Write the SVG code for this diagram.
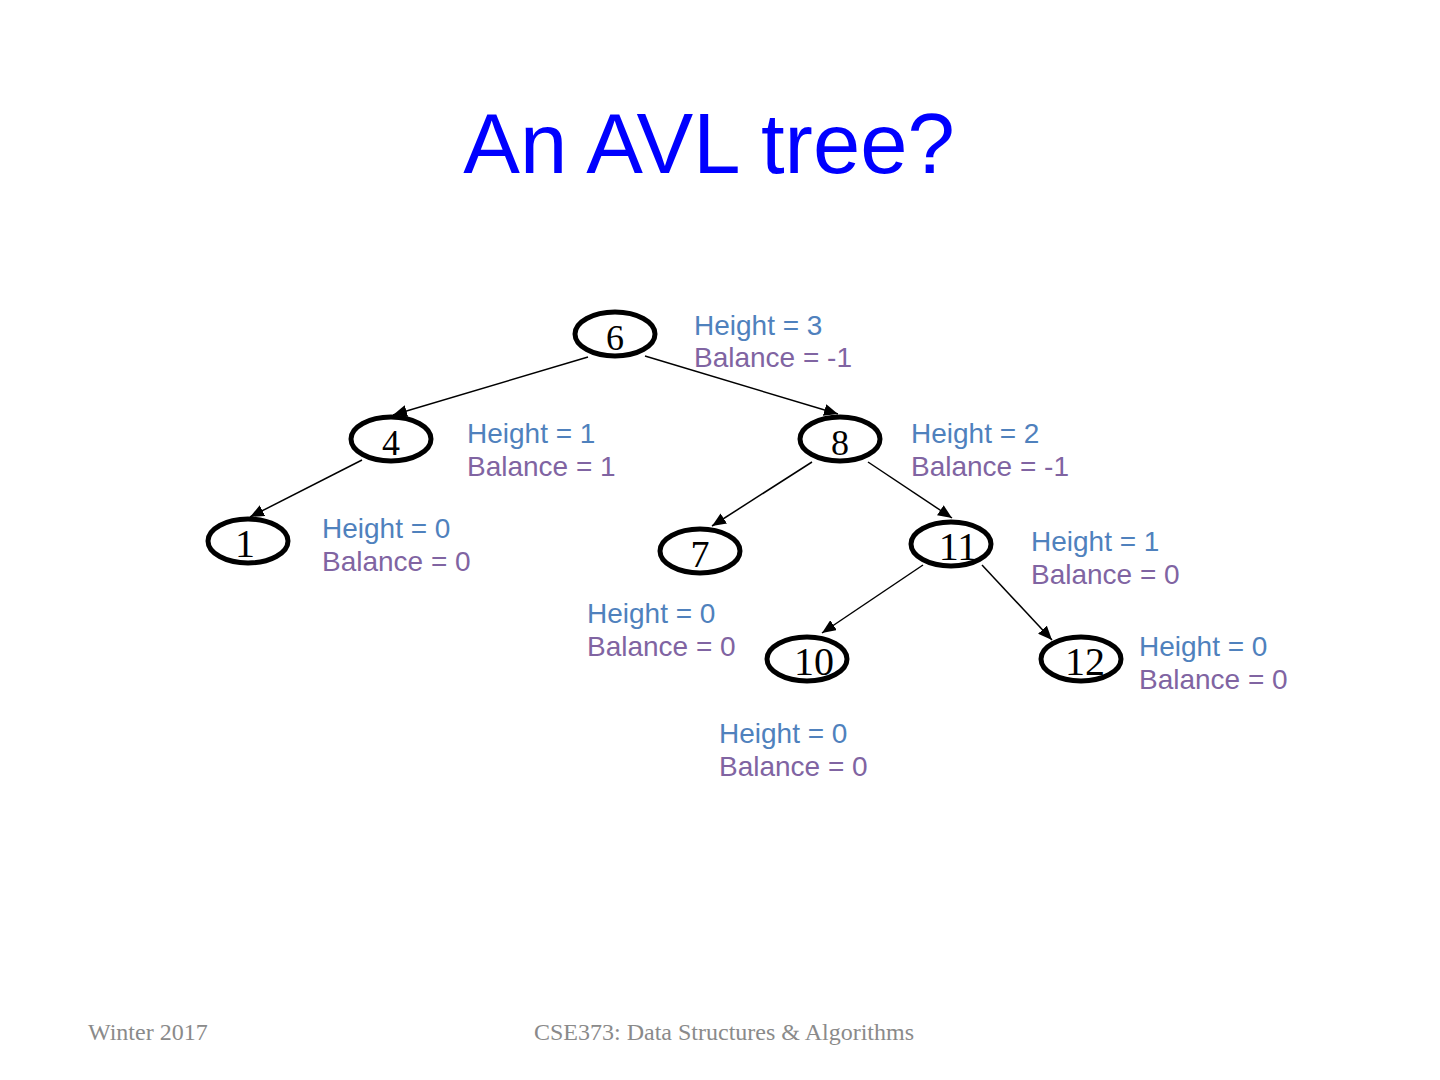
<svg xmlns="http://www.w3.org/2000/svg" width="1440" height="1080" viewBox="0 0 1440 1080">
<style>
.title{font-family:"Liberation Sans",Arial,sans-serif;font-size:85px;fill:#0000ff;text-anchor:middle}
.foot{font-family:"Liberation Serif","Times New Roman",serif;font-size:24px;fill:#8a8a8a}
.node ellipse{fill:#fff;stroke:#000;stroke-width:5}
.node text{font-family:"Liberation Serif","Times New Roman",serif;fill:#000;text-anchor:middle}
.h{font-family:"Liberation Sans",Arial,sans-serif;font-size:28px;fill:#4f81bd}
.b{font-family:"Liberation Sans",Arial,sans-serif;font-size:28px;fill:#8064a2}
.edge{stroke:#000;stroke-width:1.5;fill:none;marker-end:url(#arr)}
</style>
<defs>
<marker id="arr" markerUnits="userSpaceOnUse" markerWidth="16" markerHeight="12" refX="14" refY="6" orient="auto">
<path d="M0,0 L14,6 L0,12 Z" fill="#000"/>
</marker>
</defs>
<rect width="1440" height="1080" fill="#fff"/>
<text class="title" x="709" y="173">An AVL tree?</text>
<g id="connectors">
<line class="edge" x1="588" y1="357" x2="393" y2="415"/>
<line class="edge" x1="645" y1="356" x2="838" y2="414"/>
<line class="edge" x1="362" y1="460" x2="250" y2="517"/>
<line class="edge" x1="812" y1="462" x2="712" y2="526"/>
<line class="edge" x1="868" y1="462" x2="952" y2="518"/>
<line class="edge" x1="923" y1="565" x2="822" y2="633"/>
<line class="edge" x1="982" y1="565" x2="1052" y2="640"/>
</g>
<g id="node6" class="node"><ellipse cx="615" cy="334" rx="40" ry="22"/><text x="615" y="350" font-size="36">6</text></g>
<g id="node4" class="node"><ellipse cx="391" cy="439" rx="40" ry="22"/><text x="391" y="455" font-size="36">4</text></g>
<g id="node8" class="node"><ellipse cx="840" cy="439" rx="40" ry="22"/><text x="840" y="455" font-size="36">8</text></g>
<g id="node1" class="node"><ellipse cx="248" cy="541" rx="40" ry="22"/><text x="245" y="557" font-size="40">1</text></g>
<g id="node7" class="node"><ellipse cx="700" cy="551" rx="40" ry="22"/><text x="700" y="567" font-size="38">7</text></g>
<g id="node11" class="node"><ellipse cx="951" cy="544" rx="40" ry="22"/><text x="958" y="560" font-size="40">11</text></g>
<g id="node10" class="node"><ellipse cx="807" cy="659" rx="40" ry="22"/><text x="814" y="675" font-size="40">10</text></g>
<g id="node12" class="node"><ellipse cx="1081" cy="659" rx="40" ry="22"/><text x="1085" y="675" font-size="40">12</text></g>
<g id="labels">
<text class="h" x="694" y="335">Height = 3</text><text class="b" x="694" y="367">Balance = -1</text>
<text class="h" x="467" y="443">Height = 1</text><text class="b" x="467" y="476">Balance = 1</text>
<text class="h" x="911" y="443">Height = 2</text><text class="b" x="911" y="476">Balance = -1</text>
<text class="h" x="322" y="538">Height = 0</text><text class="b" x="322" y="571">Balance = 0</text>
<text class="h" x="1031" y="551">Height = 1</text><text class="b" x="1031" y="584">Balance = 0</text>
<text class="h" x="587" y="623">Height = 0</text><text class="b" x="587" y="656">Balance = 0</text>
<text class="h" x="1139" y="656">Height = 0</text><text class="b" x="1139" y="689">Balance = 0</text>
<text class="h" x="719" y="743">Height = 0</text><text class="b" x="719" y="776">Balance = 0</text>
</g>
<text class="foot" x="88" y="1040">Winter 2017</text>
<text class="foot" x="724" y="1040" text-anchor="middle">CSE373: Data Structures &amp; Algorithms</text>
</svg>
